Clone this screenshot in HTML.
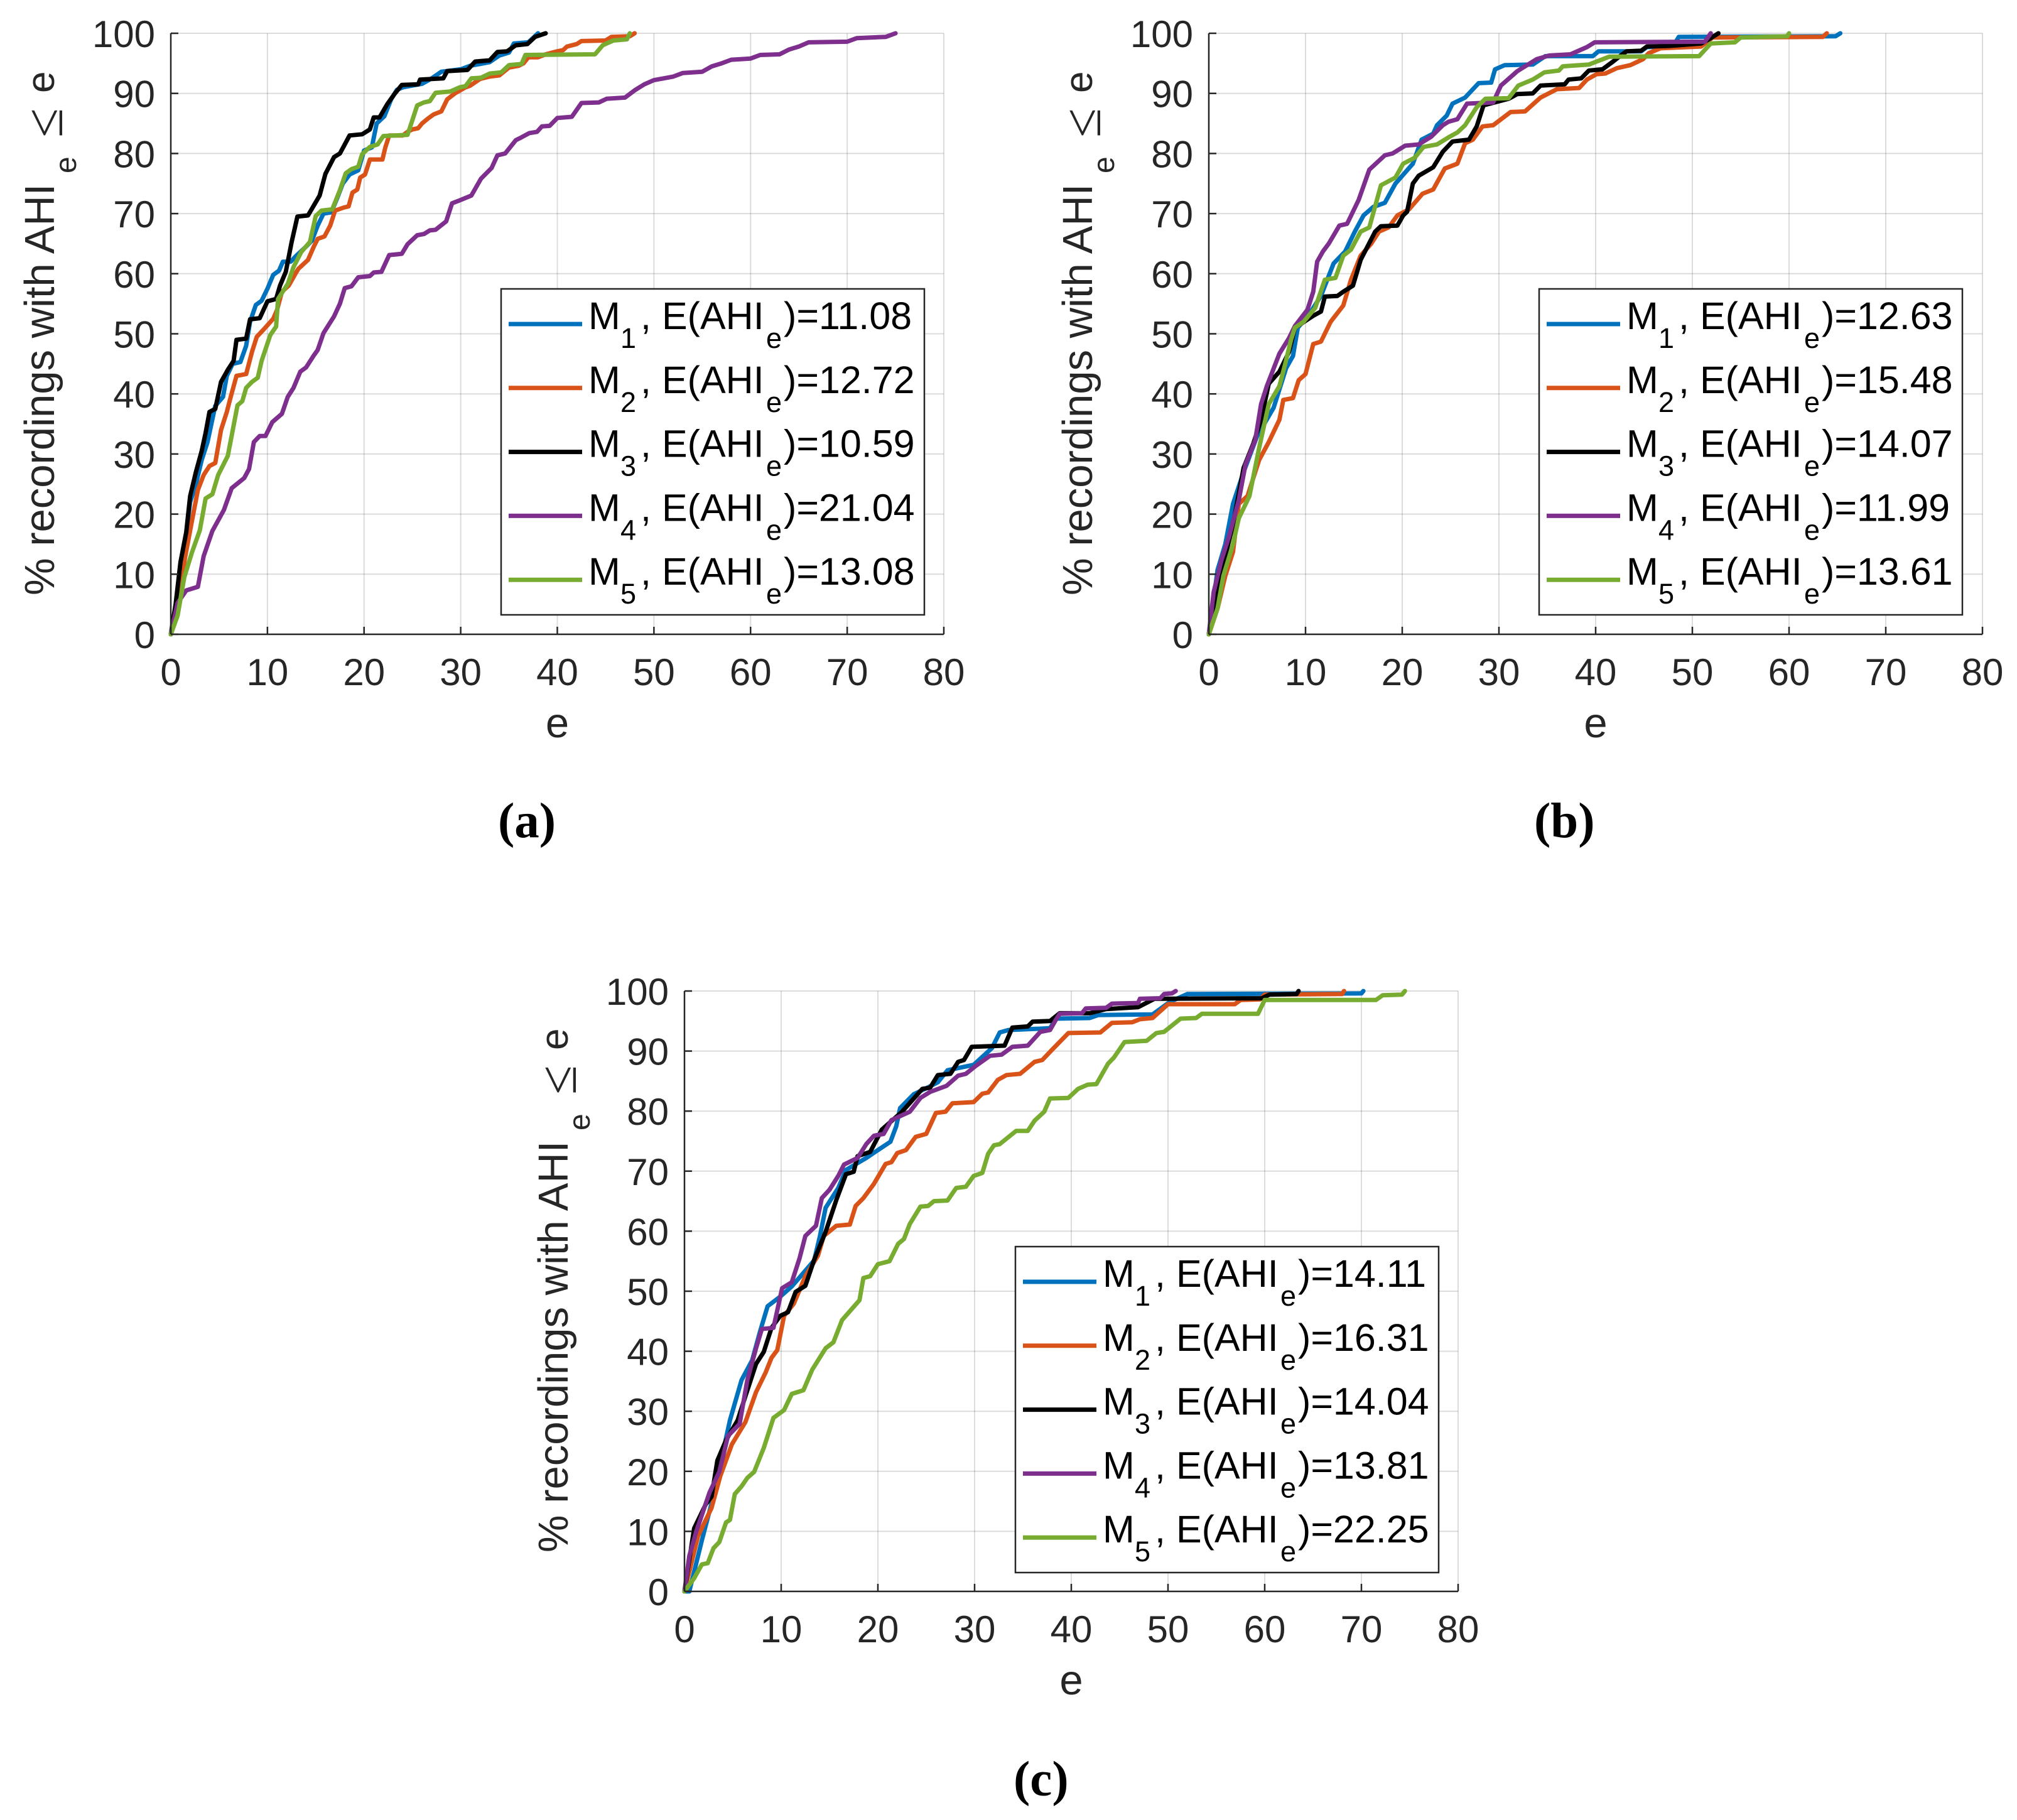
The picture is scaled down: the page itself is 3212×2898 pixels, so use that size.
<!DOCTYPE html>
<html lang="en">
<head>
<meta charset="utf-8">
<title>Cumulative recordings charts</title>
<style>
html,body{margin:0;padding:0;background:#fff;}
svg{display:block;}
text{font-family:"Liberation Sans",sans-serif;}
</style>
</head>
<body>
<svg id="figure" xmlns="http://www.w3.org/2000/svg" width="3212" height="2898" viewBox="0 0 3212 2898">
<rect x="0" y="0" width="3212" height="2898" fill="#fff"/>
<text x="793" y="1333" style="font-family:'Liberation Serif',serif;font-weight:bold;font-size:79px" fill="#000">(a)</text>
<text x="2443" y="1333" style="font-family:'Liberation Serif',serif;font-weight:bold;font-size:79px" fill="#000">(b)</text>
<text x="1614" y="2859" style="font-family:'Liberation Serif',serif;font-weight:bold;font-size:79px" fill="#000">(c)</text>
</svg>
<script>
// Axis ticks
const xTicks = [0,10,20,30,40,50,60,70,80];
const yTicks = [0,10,20,30,40,50,60,70,80,90,100];
const seriesNames = ['1','2','3','4','5'];

// Panel (a) expected values and curves
const legendA = ['11.08','12.72','10.59','21.04','13.08'];
const aM1 = [[0,0],[0.8,6],[1.4,14],[2,22],[2.6,25],[3.2,29],[3.8,32],[4.2,35],[4.6,38],[5.4,39.5],[5.8,43],[6.4,45],[7.2,45.3],[7.8,48],[8.2,52],[8.8,54.8],[9.4,55.5],[10,57.5],[10.6,59.8],[11.2,60.5],[11.6,62],[12.4,62],[13,63],[14,64.5],[14.6,65.5],[15.2,68],[15.8,70],[16.6,70.2],[17.2,72.5],[17.8,75],[18.5,76.5],[19.4,77.2],[20,80.5],[20.8,81],[21.3,85],[22.1,86.2],[22.8,89],[23.4,90.6],[24,91],[26,91.6],[27,92.5],[28,93.6],[30,94],[31,94.6],[33,95.2],[34,96.3],[35,96.8],[35.5,98.3],[37,98.5],[38,100]];
const aM2 = [[0,0],[0.8,6],[1.5,13],[2.2,19],[2.8,24],[3.4,26.5],[4,28],[4.6,28.5],[5.2,34],[5.8,37],[6.2,39.5],[6.8,43],[7.8,43.3],[8.4,47],[8.9,49.5],[9.6,50.7],[10.6,52.5],[11,54],[11.5,57],[12.2,58],[12.9,60],[13.2,60.8],[14.2,62.3],[14.8,64.5],[15.2,65.8],[15.9,66.2],[16.5,68],[17,70.5],[17.9,71],[18.4,71.2],[18.8,73.5],[19.3,74],[19.6,76],[20.1,76.5],[20.6,79],[21.9,79],[22.2,81],[22.6,83],[24,83],[24.5,83.6],[25,84],[25.6,84.2],[26,85],[26.6,85.8],[27.2,86.5],[28,87],[28.6,89],[29.4,90],[30.5,91],[31,91.3],[32,92.4],[33,92.8],[34,93],[35,94.3],[36,94.6],[36.5,95],[37,96],[38,96],[38.8,96.5],[40,97],[40.6,97.2],[41,97.8],[42,98.2],[42.5,98.7],[45,98.8],[45.6,99.4],[47.5,99.5],[48,100]];
const aM3 = [[0,0],[0.5,5],[1,12],[1.6,17],[2,23],[2.6,27],[3.2,30.5],[3.6,33.5],[4,37],[4.6,37.5],[5.2,42],[5.9,44],[6.5,45.5],[6.8,49],[7.8,49.2],[8.2,52.4],[9.2,52.6],[10,55.4],[10.9,55.8],[11.3,58],[11.9,60.3],[12.5,65.2],[13.1,69.5],[14.2,69.7],[15.4,73],[16,76.6],[16.9,79.4],[17.5,80],[18.5,83],[19.8,83.2],[20.6,84],[21,86],[21.6,86],[22.4,88.2],[23.1,89.8],[23.9,91.4],[25.6,91.5],[25.8,92.3],[28.2,92.5],[28.6,93.7],[30.7,93.9],[31.5,95.3],[33,95.5],[33.8,96.9],[34.8,97],[35.7,98],[36.9,98.2],[37.7,99.4],[38.8,100]];
const aM4 = [[0,0],[0.7,5.2],[1.6,7.3],[2.8,7.9],[3.4,13],[4.3,17.2],[5.5,20.7],[6.3,24.3],[7.6,26],[8.1,27.5],[8.6,32],[9.2,33],[9.8,33],[10.5,35.3],[11.5,36.7],[12.1,39.5],[12.7,41],[13.4,43.7],[14,44.4],[14.8,46.4],[15.2,47.3],[15.8,50.1],[16.9,52.9],[17.5,55],[18,57.6],[18.7,57.9],[19.4,59.4],[20.6,59.6],[21,60.2],[21.8,60.3],[22.6,63.1],[23.9,63.3],[24.5,64.9],[25.5,66.4],[26.2,66.6],[26.8,67.2],[27.4,67.3],[28.5,68.7],[29.1,71.7],[29.9,72.2],[31.1,73],[32.1,75.8],[33.2,77.6],[33.8,79.7],[34.6,80],[35.7,82.2],[36.3,82.7],[37.1,83.4],[37.9,83.6],[38.4,84.5],[39.2,84.6],[40,85.9],[41.5,86.1],[42.5,88.4],[44.3,88.5],[45.1,89.1],[47,89.3],[48,90.5],[49,91.5],[50,92.2],[51,92.5],[52,92.8],[53,93.4],[55,93.6],[56,94.5],[57,95],[58,95.6],[60,95.8],[61,96.4],[63,96.5],[64,97.3],[65,97.8],[66,98.5],[70,98.6],[71,99.2],[74,99.4],[75,100]];
const aM5 = [[0,0],[0.7,3.1],[1.4,9.5],[2.2,13.7],[3,17.3],[3.6,22.6],[4.3,23.3],[4.9,26.5],[5.9,29.7],[6.9,38.1],[7.4,38.8],[7.8,41],[8.4,42],[9,42.7],[9.4,45.5],[10.3,49.8],[10.9,51.2],[11.1,55.8],[12.1,58.3],[12.7,61.1],[13.5,63.6],[14.4,65.3],[15,69.6],[15.6,70.5],[16.7,70.7],[17.5,73.9],[18.1,76.7],[18.7,77.4],[19.4,77.8],[19.8,79.9],[20.6,81.1],[21.4,81.5],[22,82.9],[24.5,83.1],[25.5,88],[26.2,88.5],[26.8,88.7],[27.4,90.1],[28.9,90.3],[29.9,91],[30.5,91.2],[31.1,92.5],[32.1,92.6],[33,93.3],[34.2,93.5],[35,94.7],[36.3,94.9],[36.7,96.4],[43.9,96.5],[44.7,98],[45.8,98.8],[47.2,99],[47.5,100]];

// Panel (b) expected values and curves
const legendB = ['12.63','15.48','14.07','11.99','13.61'];
const bM1 = [[0,0],[0.9,10.7],[1.7,15],[2.5,21.7],[3.6,27],[5,33],[6.7,37.7],[8,44.3],[8.7,46.3],[9.2,51],[10.4,53.3],[11.6,56.3],[12.9,61.7],[14.1,63.7],[15.1,67],[16,69.7],[17,71.1],[18.2,71.8],[19.3,75],[21.1,78.3],[22,82.3],[23.2,83.3],[23.6,84.7],[24.6,86.3],[25.2,88.3],[26.5,89.3],[27.9,91.7],[29.2,91.8],[29.6,94],[30.6,94.7],[33.5,94.8],[34.8,96.2],[39.7,96.2],[40.3,97],[44.7,97],[45.3,97.7],[48,97.8],[48.6,99.4],[64.8,99.5],[65.3,100]];
const bM2 = [[0,0],[0.9,4.3],[1.7,9.7],[2.5,13.7],[3.1,21.7],[4,23],[5.2,29],[6.2,32],[7.3,35.7],[7.7,39],[8.7,39.3],[9.3,42.3],[10,43.3],[10.8,48.3],[11.6,48.7],[12.6,52],[13.9,54.7],[14.7,59],[15.7,63],[16.8,65],[17.6,67],[18.6,67.7],[19.5,69.7],[20.7,70.7],[22.1,73.3],[23.2,74],[24.4,77.5],[25.7,78.3],[26.5,81.7],[27.3,82.3],[28.3,84.5],[29.4,84.7],[31.2,86.9],[32.7,87],[34.3,89.3],[36,90.7],[38.3,90.9],[39.1,92.3],[40.1,93.2],[41,93.3],[42.2,94.2],[43.6,94.7],[44.9,95.7],[45.5,96.7],[46.7,97.5],[50.9,97.8],[52.1,99.3],[63.5,99.4],[63.9,100]];
const bM3 = [[0,0],[0.7,6.3],[1.7,13],[2.5,18.3],[3.6,27.7],[4.6,31.7],[5.4,35.7],[6.2,41.7],[7.3,43.7],[8.3,47],[8.9,51],[10.8,53],[11.6,53.7],[12,56.2],[13.3,56.3],[13.9,57],[14.9,58],[15.7,62.3],[17.2,67],[17.8,67.9],[19.5,68],[20.1,69.7],[20.5,70.3],[21.1,75],[21.7,76.3],[23.2,77.7],[24.2,80.3],[25.2,82],[26.9,82.3],[27.7,84.5],[28.4,88],[31,89.1],[31.9,89.9],[33.5,90],[34.3,91.3],[36.8,91.5],[37.2,92.3],[38.5,92.5],[39.3,93.8],[40.7,94],[41.8,95.3],[42.6,96.3],[43.2,97],[44.7,97.1],[45.3,97.8],[47.6,97.9],[50.9,98.3],[51.7,99],[52.7,100]];
const bM4 = [[0,0],[0.5,7],[1.3,12.3],[2.1,16.3],[3.1,22.3],[3.8,28.3],[4.8,32.3],[5.4,38.3],[6,41.3],[7.3,46.7],[8.3,49.3],[8.9,51.3],[10.2,54],[10.8,57],[11.2,62],[11.8,63.7],[12.4,65],[13.5,68],[14.3,68.3],[15.5,72.3],[16.6,77.3],[18.2,79.7],[19,80],[20.3,81.3],[21.7,81.5],[23,82.8],[24.2,84.7],[24.8,85.3],[25.7,85.7],[26.7,88.3],[29.4,88.5],[30.2,91.3],[31.9,93.7],[33.9,95.7],[35.2,96.3],[37.4,96.5],[39.1,97.7],[39.9,98.5],[51.3,98.6],[51.9,100]];
const bM5 = [[0,0],[0.9,4.3],[1.5,9.7],[2.5,15],[3.1,19.3],[4.2,23],[5.2,31],[6.2,38.3],[7.3,41.3],[7.9,45],[8.5,49],[8.9,51],[9.8,52],[11,54.3],[12,59],[13.1,59.3],[13.9,63],[14.7,64],[15.7,67],[16.6,67.7],[17.8,74.7],[19.3,76],[20.1,78.3],[21.3,79.3],[22.2,81.1],[23.6,81.5],[24.8,82.7],[25.7,83.5],[26.5,84.7],[27.7,87.7],[28.6,89.1],[31,89.2],[32,91.3],[33.5,92.3],[34.7,93.5],[36.2,93.8],[36.6,94.5],[39.3,94.8],[41.4,96.1],[50.7,96.2],[51.9,98.3],[54.4,98.5],[55,99.3],[59.8,99.5],[60,100]];

// Panel (c) expected values and curves
const legendC = ['14.11','16.31','14.04','13.81','22.25'];
const cM1 = [[0,0],[0.5,0],[1.8,8.5],[3,15.9],[4.7,28.5],[5.9,35.2],[7,38.5],[7.8,43.2],[8.6,47.5],[9.9,49.1],[11.1,50.8],[13.4,55.1],[14,59.1],[14.6,63.9],[15.9,67.2],[16.7,70.2],[18.8,72.2],[20,73.5],[21.3,74.9],[21.9,77.5],[22.3,80.5],[23.7,82.8],[25,83.8],[26.2,84.8],[27.2,86.8],[29.9,87.7],[31.8,90.5],[32.6,93.1],[33.5,93.5],[37.8,93.8],[38.4,95.4],[41.9,95.5],[42.8,96],[48.4,96.1],[50.2,98.2],[52,99.5],[70,99.6],[70.2,100]];
const cM2 = [[0,0],[1.4,9.2],[2.8,13.9],[3.7,19.2],[4.9,24.5],[6.3,28.2],[7.4,33.2],[8.4,36.5],[9,38.9],[9.6,40.2],[10.3,45.9],[11.3,47.9],[12.5,52.5],[13.8,55.9],[14.4,59.2],[15.7,60.9],[17.1,61.1],[17.7,64.2],[18.5,65.5],[19.6,67.9],[20.8,71.2],[21.4,71.5],[22,73],[22.9,73.5],[23.9,75.7],[25,76.2],[26,79.7],[27,79.9],[27.7,81.3],[29.9,81.5],[30.8,82.9],[31.4,83.1],[32.4,85.2],[33.3,86],[34.7,86.2],[36.2,88.2],[37,88.5],[38,90.2],[39.7,93],[43,93.1],[44.2,94.7],[46.3,94.8],[47.1,95.3],[48.4,95.5],[50,97.8],[56.9,97.8],[57.5,98.5],[59.5,98.6],[60,99.4],[68,99.5],[68.2,100]];
const cM3 = [[0,0],[1,10.5],[2.2,14.5],[2.8,15.8],[3.4,21.8],[4.3,25.2],[5.5,28.5],[6.3,32.5],[7.4,37.9],[8.2,39.9],[9,43.9],[9.9,45.9],[10.7,46.5],[11.5,49.9],[12.5,50.9],[13.4,55.2],[14.6,59.9],[15.7,65.2],[16.7,69.5],[17.5,69.9],[17.9,72.5],[19.2,73.2],[20.4,76.9],[22.5,79.9],[24.6,83.7],[25.4,83.9],[26.2,86],[27.5,86.2],[28.3,88.2],[28.9,88.5],[29.7,90.7],[33.1,90.9],[33.9,93.9],[35.5,94.1],[36,94.9],[37.8,95],[38.8,96.3],[41.9,96.3],[43.6,97],[46.9,97.3],[48.6,98.7],[59.7,98.8],[60.5,99.4],[63.3,99.5],[63.5,100]];
const cM4 = [[0,0],[0.5,5.9],[1.2,9.9],[2.6,16.5],[3.6,19.9],[4.5,25.9],[5.7,27.9],[6.5,35.2],[7.4,40.5],[8,43.7],[9.2,43.9],[10.1,50.5],[11.1,51.5],[11.9,55.5],[12.5,59.2],[13.6,60.9],[14.2,65.5],[15,66.9],[15.9,69.2],[16.5,71.1],[17.9,72.2],[18.8,74.5],[19.6,75.9],[20.6,76.2],[21.4,78.5],[23.3,79.9],[24.4,82.2],[25.4,83.2],[27.1,84.2],[28.3,85.9],[29.1,86.2],[30.1,87.5],[31.6,89.2],[32.8,89.4],[33.9,90.7],[35.5,90.9],[36.8,93.2],[37.8,93.5],[38.4,95.2],[38.8,96.2],[41.1,96.3],[41.5,97.1],[43.6,97.2],[44.2,97.9],[46.9,98],[47.1,98.7],[49.2,98.8],[49.6,99.5],[50.4,99.6],[50.8,100]];
const cM5 = [[0,0],[1,2.2],[1.8,4.5],[2.4,4.7],[3,7.2],[3.6,8.2],[4.3,11.5],[4.7,11.9],[5.2,16.2],[5.9,17.5],[6.5,18.9],[7.2,19.9],[8.2,23.9],[9.2,28.9],[10.3,30.2],[11.1,32.9],[12.3,33.5],[13.2,36.9],[14.6,40.5],[15.4,41.5],[16.3,45.2],[18.1,48.5],[18.5,52.2],[19.2,52.5],[20,54.5],[21.2,55],[22.1,57.9],[22.7,58.7],[23.3,61.2],[24.4,64.1],[25.2,64.2],[25.8,65],[27.2,65.1],[28.1,67.2],[29.1,67.4],[29.9,69.2],[30.8,69.7],[31.4,72.9],[32,74.3],[32.6,74.5],[34.3,76.7],[35.5,76.7],[36.2,78.4],[37.2,79.9],[37.8,82.1],[39.7,82.2],[40.7,83.7],[41.7,84.4],[42.6,84.5],[43.8,87.9],[44.4,88.9],[45.5,91.5],[47.8,91.7],[48.8,93],[49.6,93.2],[51.3,95.4],[52.9,95.5],[53.5,96.2],[59.3,96.2],[60,98.5],[71.5,98.5],[72.2,99.3],[74.2,99.4],[74.5,100]];

const svgNS = 'http://www.w3.org/2000/svg';
const figure = document.getElementById('figure');
const lineColors = ['#0072BD','#D95319','#000000','#7E2F8E','#77AC30'];
const panelList = [
  {id:'a', x0:272, x1:1503, yTop:53, yBot:1010, legX:798, legY:460, curves:[aM1,aM2,aM3,aM4,aM5], legend:legendA},
  {id:'b', x0:1925, x1:3157, yTop:53, yBot:1010, legX:2451, legY:460, curves:[bM1,bM2,bM3,bM4,bM5], legend:legendB},
  {id:'c', x0:1090, x1:2322, yTop:1578, yBot:2534, legX:1617, legY:1985, curves:[cM1,cM2,cM3,cM4,cM5], legend:legendC}
];

function make(parent, tag, attrs, content) {
  const el = document.createElementNS(svgNS, tag);
  for (const k in attrs) el.setAttribute(k, attrs[k]);
  if (content !== undefined) el.textContent = content;
  parent.appendChild(el);
  return el;
}

function drawPanel(p) {
  const sx = function (e) { return p.x0 + (e / 80) * (p.x1 - p.x0); };
  const sy = function (v) { return p.yBot - (v / 100) * (p.yBot - p.yTop); };

  const g = make(figure, 'g', {});
  
  

  // grid
  xTicks.forEach(function (t) {
    const el = make(g, 'line', {x1:sx(t), x2:sx(t), y1:sy(0), y2:sy(100), stroke:'#262626', 'stroke-opacity':0.16, 'stroke-width':2});
    
    
  });
  yTicks.forEach(function (t) {
    const el = make(g, 'line', {x1:sx(0), x2:sx(80), y1:sy(t), y2:sy(t), stroke:'#262626', 'stroke-opacity':0.16, 'stroke-width':2});
    
    
  });

  // series
  p.curves.forEach(function (curve, i) {
    const pts = curve.map(function (d) { return sx(d[0]).toFixed(1) + ',' + sy(d[1]).toFixed(1); }).join(' ');
    const el = make(g, 'polyline', {points:pts, fill:'none', stroke:lineColors[i], 'stroke-width':7, 'stroke-linejoin':'round', 'stroke-linecap':'round'});
    
    
  });

  // axes
  const xAxis = make(g, 'line', {x1:sx(0), x2:sx(80), y1:sy(0), y2:sy(0), stroke:'#262626', 'stroke-width':2.5});
  
  
  const yAxis = make(g, 'line', {x1:sx(0), x2:sx(0), y1:sy(0), y2:sy(100), stroke:'#262626', 'stroke-width':2.5});
  
  

  // ticks + labels
  xTicks.forEach(function (t) {
    const tick = make(g, 'line', {x1:sx(t), x2:sx(t), y1:sy(0), y2:sy(0) - 12, stroke:'#262626', 'stroke-width':2.5});
    
    
    const lab = make(g, 'text', {x:sx(t), y:sy(0) + 81, 'text-anchor':'middle', 'font-size':60, fill:'#262626'}, String(t));
    
    
  });
  yTicks.forEach(function (t) {
    const tick = make(g, 'line', {x1:sx(0), x2:sx(0) + 12, y1:sy(t), y2:sy(t), stroke:'#262626', 'stroke-width':2.5});
    
    
    const lab = make(g, 'text', {x:sx(0) - 25, y:sy(t) + 22, 'text-anchor':'end', 'font-size':60, fill:'#262626'}, String(t));
    
    
  });

  // x title
  const xTitle = make(g, 'text', {x:sx(40), y:sy(0) + 164, 'text-anchor':'middle', 'font-size':67, fill:'#262626'}, 'e');
  
  

  // y title
  const tx = p.x0 - 186;
  const ty = p.yBot - 62;
  const yTitle = make(g, 'g', {transform:'translate(' + tx + ',' + ty + ') rotate(-90)'});
  
  
  make(yTitle, 'text', {x:0, y:0, 'font-size':67, fill:'#262626'}, '% recordings with AHI');
  make(yTitle, 'text', {x:672, y:35, 'font-size':48, fill:'#262626'}, 'e');
  make(yTitle, 'text', {x:729, y:13, 'font-size':85, fill:'#262626', style:"font-family:'Liberation Serif',serif"}, '≤');
  make(yTitle, 'text', {x:800, y:0, 'font-size':62, fill:'#262626'}, 'e');

  // legend
  const leg = make(g, 'g', {transform:'translate(' + p.legX + ',' + p.legY + ')'});
  
  
  make(leg, 'rect', {x:0, y:0, width:674, height:519, fill:'#fff', stroke:'#262626', 'stroke-width':2.5});
  p.legend.forEach(function (val, i) {
    const cy = 56 + i * 101.8;
    const entry = make(leg, 'g', {});
    
    
    make(entry, 'line', {x1:12, x2:129, y1:cy, y2:cy, stroke:lineColors[i], 'stroke-width':7});
    make(entry, 'text', {x:139, y:cy + 8, 'font-size':61, fill:'#000'}, 'M');
    make(entry, 'text', {x:190, y:cy + 38, 'font-size':45, fill:'#000'}, seriesNames[i]);
    make(entry, 'text', {x:222, y:cy + 8, 'font-size':61, fill:'#000'}, ',');
    make(entry, 'text', {x:256, y:cy + 8, 'font-size':61, fill:'#000'}, 'E(AHI');
    make(entry, 'text', {x:422, y:cy + 38, 'font-size':45, fill:'#000'}, 'e');
    make(entry, 'text', {x:450, y:cy + 8, 'font-size':61, fill:'#000'}, ')=' + val);
  });
}

panelList.forEach(drawPanel);
</script>
</body>
</html>
